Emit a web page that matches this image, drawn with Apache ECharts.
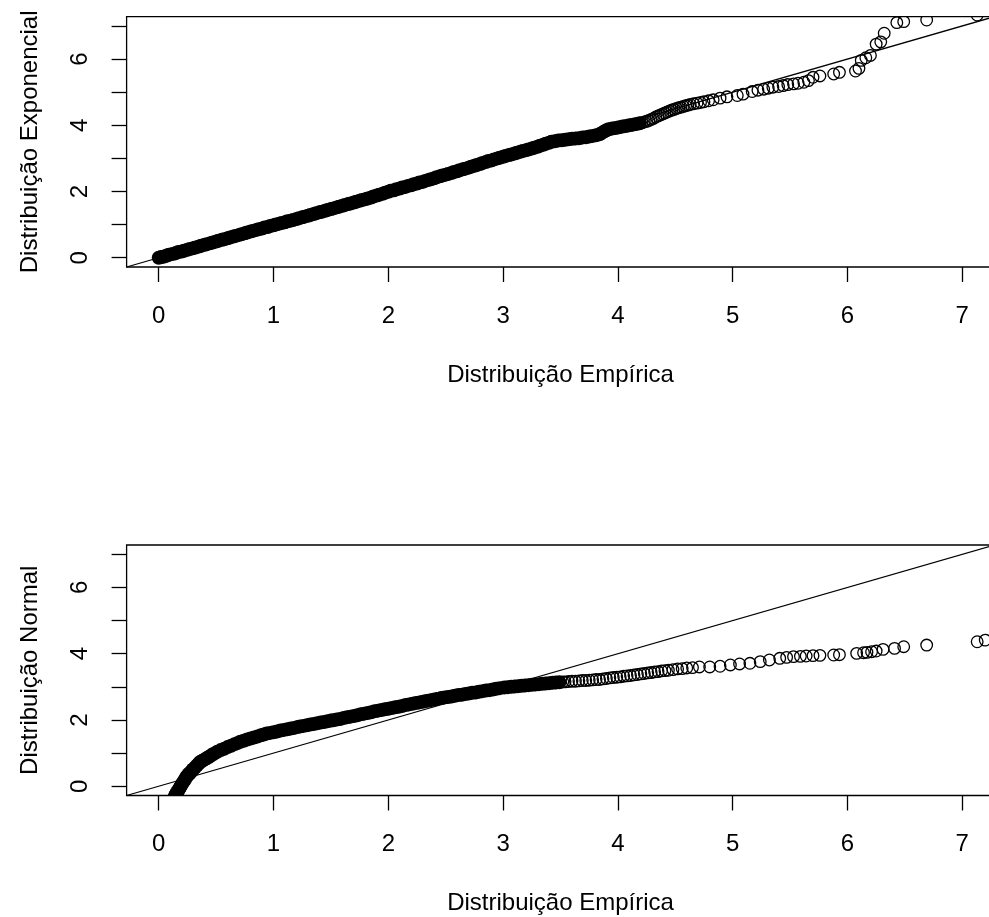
<!DOCTYPE html>
<html><head><meta charset="utf-8">
<script src="https://cdn.jsdelivr.net/npm/echarts@6.0.0/dist/echarts.min.js"></script>
<style>html,body{margin:0;padding:0;background:#fff}#c{width:989px;height:917px}</style>
</head><body><div id="c"></div>
<script>
// ---- data ----
const tickValues = [0, 1, 2, 3, 4, 5, 6, 7];
const xLabelValues = [0, 1, 2, 3, 4, 5, 6, 7];
const yLabelValues = [0, 2, 4, 6];
const axisMin = -0.28, axisMax = 7.28;
const xTitle = 'Distribuição Empírica';
const yTitles = ['Distribuição Exponencial', 'Distribuição Normal'];
// reference line y = x (intercept 0, slope 1)
const refLine = [[-0.28, -0.28], [7.28, 7.28]];

// top plot: [empirical, exponential] pairs, solid band part
const expDense = [
0.00,0.00, 0.02,0.02, 0.04,0.03, 0.06,0.05, 0.08,0.08, 0.10,0.10, 0.13,0.12, 0.15,0.14, 0.17,0.17, 0.20,0.19,
0.22,0.21, 0.25,0.24, 0.27,0.26, 0.30,0.29, 0.32,0.31, 0.35,0.34, 0.37,0.36, 0.40,0.39, 0.42,0.41, 0.45,0.44,
0.47,0.46, 0.50,0.49, 0.52,0.51, 0.55,0.54, 0.57,0.56, 0.60,0.59, 0.62,0.61, 0.65,0.64, 0.67,0.66, 0.70,0.69,
0.72,0.71, 0.75,0.74, 0.77,0.76, 0.80,0.79, 0.82,0.81, 0.85,0.84, 0.87,0.86, 0.90,0.88, 0.92,0.91, 0.95,0.93,
0.97,0.96, 1.00,0.98, 1.02,1.00, 1.05,1.03, 1.07,1.05, 1.10,1.07, 1.12,1.10, 1.15,1.12, 1.17,1.14, 1.20,1.17,
1.22,1.19, 1.25,1.22, 1.27,1.24, 1.30,1.27, 1.32,1.29, 1.35,1.32, 1.37,1.34, 1.40,1.37, 1.42,1.39, 1.45,1.42,
1.47,1.44, 1.50,1.47, 1.52,1.49, 1.55,1.52, 1.57,1.54, 1.60,1.57, 1.62,1.59, 1.65,1.62, 1.67,1.64, 1.70,1.67,
1.72,1.69, 1.75,1.72, 1.77,1.74, 1.80,1.77, 1.82,1.79, 1.85,1.82, 1.87,1.85, 1.90,1.88, 1.92,1.90, 1.95,1.93,
1.97,1.96, 2.00,1.99, 2.02,2.02, 2.05,2.04, 2.07,2.07, 2.10,2.09, 2.12,2.12, 2.15,2.14, 2.17,2.17, 2.20,2.19,
2.22,2.22, 2.25,2.24, 2.27,2.27, 2.30,2.29, 2.32,2.32, 2.35,2.35, 2.37,2.37, 2.40,2.40, 2.42,2.43, 2.45,2.46,
2.47,2.48, 2.50,2.51, 2.52,2.53, 2.55,2.56, 2.57,2.59, 2.60,2.61, 2.62,2.64, 2.65,2.67, 2.67,2.69, 2.70,2.72,
2.72,2.75, 2.75,2.78, 2.77,2.80, 2.80,2.83, 2.82,2.86, 2.85,2.89, 2.87,2.92, 2.90,2.94, 2.92,2.97, 2.95,3.00,
2.97,3.02, 3.00,3.05, 3.02,3.07, 3.05,3.10, 3.07,3.12, 3.10,3.15, 3.12,3.17, 3.15,3.20, 3.17,3.22, 3.20,3.25,
3.22,3.27, 3.25,3.30, 3.27,3.32, 3.30,3.35, 3.32,3.38, 3.35,3.41, 3.37,3.44, 3.40,3.47, 3.42,3.50, 3.45,3.52,
3.48,3.54, 3.51,3.55, 3.54,3.56, 3.57,3.58, 3.60,3.59, 3.63,3.60, 3.66,3.61, 3.69,3.63, 3.72,3.64, 3.75,3.66,
3.78,3.68, 3.81,3.70, 3.84,3.73, 3.86,3.77, 3.88,3.81, 3.90,3.85, 3.92,3.88, 3.95,3.90, 3.98,3.92, 4.01,3.94,
4.04,3.96, 4.07,3.98, 4.10,4.00, 4.13,4.02, 4.16,4.04, 4.19,4.06
];
// top plot: separate (overlapping) circles
const expSparse = [
4.21,4.08, 4.23,4.10, 4.25,4.12, 4.27,4.15, 4.29,4.18, 4.31,4.21, 4.33,4.25, 4.35,4.28, 4.37,4.31, 4.39,4.34,
4.41,4.37, 4.43,4.40, 4.45,4.43, 4.47,4.46, 4.49,4.48, 4.51,4.51, 4.53,4.53, 4.55,4.55, 4.57,4.57, 4.59,4.59,
4.61,4.61, 4.63,4.63, 4.66,4.65, 4.69,4.67, 4.72,4.69, 4.75,4.71, 4.79,4.74, 4.83,4.77, 4.89,4.82, 4.95,4.86,
5.04,4.90, 5.09,4.94, 5.17,5.02, 5.22,5.06, 5.27,5.09, 5.31,5.12, 5.35,5.15, 5.40,5.17, 5.44,5.20, 5.48,5.23,
5.53,5.25, 5.57,5.27, 5.62,5.30, 5.66,5.35, 5.70,5.45, 5.76,5.49, 5.88,5.55, 5.93,5.60, 6.07,5.64, 6.10,5.72,
6.12,5.96, 6.16,6.04, 6.20,6.11, 6.25,6.45, 6.29,6.52, 6.32,6.78, 6.43,7.10, 6.49,7.13, 6.69,7.18, 7.13,7.33,
7.20,7.60
];

// bottom plot: [empirical, normal] pairs, solid band part
const normDense = [
0.06,-0.95, 0.07,-0.87, 0.08,-0.79, 0.09,-0.70, 0.10,-0.62, 0.11,-0.54, 0.12,-0.46, 0.13,-0.38, 0.14,-0.30,
0.15,-0.24, 0.16,-0.18, 0.17,-0.13, 0.18,-0.07, 0.19,-0.01, 0.20,0.05, 0.21,0.11, 0.22,0.16, 0.23,0.22, 0.24,0.28,
0.25,0.32, 0.26,0.36, 0.27,0.39, 0.28,0.43, 0.29,0.47, 0.30,0.51, 0.315,0.56, 0.33,0.62, 0.345,0.67, 0.36,0.73,
0.38,0.77, 0.40,0.81, 0.42,0.85, 0.44,0.89, 0.46,0.94, 0.48,0.98, 0.51,1.04,
0.54,1.09, 0.57,1.13, 0.60,1.18, 0.63,1.22, 0.66,1.27, 0.685,1.30, 0.71,1.34,
0.74,1.37, 0.77,1.41, 0.80,1.44, 0.83,1.47, 0.86,1.50, 0.89,1.54, 0.915,1.56, 0.94,1.59,
0.97,1.61, 1.00,1.63, 1.03,1.65, 1.06,1.68, 1.09,1.70, 1.12,1.72, 1.15,1.74, 1.18,1.76, 1.21,1.79, 1.23,1.80,
1.26,1.82, 1.29,1.84, 1.32,1.86, 1.35,1.88, 1.38,1.90, 1.41,1.92, 1.44,1.94, 1.47,1.96, 1.50,1.98, 1.52,1.99,
1.55,2.01, 1.58,2.03, 1.61,2.06, 1.64,2.08, 1.67,2.10, 1.70,2.12, 1.73,2.14, 1.76,2.17, 1.79,2.19, 1.82,2.21,
1.85,2.23, 1.88,2.26, 1.91,2.28,
1.94,2.30, 1.97,2.32, 2.00,2.34, 2.03,2.36, 2.06,2.38, 2.09,2.40, 2.12,2.42, 2.15,2.45, 2.18,2.47, 2.21,2.49,
2.24,2.51, 2.27,2.53, 2.30,2.55, 2.33,2.57, 2.36,2.59, 2.39,2.61, 2.42,2.63, 2.46,2.66,
2.49,2.68, 2.52,2.69, 2.55,2.71, 2.58,2.73, 2.61,2.75, 2.64,2.76, 2.67,2.78, 2.70,2.80, 2.73,2.82, 2.76,2.83,
2.79,2.85, 2.82,2.87, 2.85,2.89, 2.88,2.90, 2.91,2.92, 2.94,2.94, 2.97,2.96, 3.01,2.98,
3.04,2.99, 3.07,3.00, 3.10,3.01, 3.13,3.02, 3.16,3.03, 3.19,3.04, 3.22,3.05, 3.25,3.06, 3.28,3.07, 3.31,3.08,
3.34,3.09, 3.37,3.10, 3.40,3.11, 3.43,3.12, 3.46,3.13, 3.49,3.14
];
// bottom plot: separate (overlapping) circles
const normSparse = [
3.52,3.15, 3.54,3.15, 3.57,3.16, 3.60,3.17, 3.63,3.17, 3.66,3.18, 3.69,3.19, 3.72,3.19, 3.75,3.20, 3.78,3.21,
3.81,3.22, 3.84,3.22, 3.87,3.24, 3.90,3.25, 3.93,3.27, 3.96,3.28, 3.99,3.29, 4.02,3.30, 4.05,3.32, 4.08,3.33,
4.11,3.34, 4.14,3.36, 4.17,3.37, 4.20,3.39, 4.23,3.40, 4.26,3.42, 4.29,3.43, 4.32,3.45, 4.35,3.46, 4.38,3.48,
4.41,3.49, 4.44,3.50, 4.48,3.52, 4.52,3.54, 4.56,3.55, 4.60,3.57, 4.65,3.58, 4.71,3.60, 4.80,3.60, 4.89,3.62,
4.98,3.66, 5.06,3.69, 5.15,3.71, 5.24,3.76, 5.32,3.81, 5.41,3.86, 5.47,3.89, 5.53,3.91, 5.59,3.92, 5.64,3.93,
5.70,3.94, 5.76,3.95, 5.88,3.96, 5.93,3.97, 6.08,4.01, 6.14,4.03, 6.17,4.04, 6.21,4.06, 6.25,4.08, 6.31,4.13,
6.41,4.16, 6.49,4.21, 6.69,4.26, 7.13,4.36, 7.20,4.41
];

// ---- chart ----
function pairs(a) { const o = []; for (let i = 0; i + 1 < a.length; i += 2) o.push([a[i], a[i + 1]]); return o; }
const FONT = "'Liberation Sans', Arial, Helvetica, sans-serif";
const BLACK = '#000';
const tickStyle = { color: BLACK, width: 1.3 };

function xAxisFor(i) {
  return {
    type: 'value', gridIndex: i, min: axisMin, max: axisMax,
    axisLine: { show: false, onZero: false },
    axisTick: { show: true, inside: false, length: 15, customValues: tickValues, lineStyle: tickStyle },
    axisLabel: { customValues: xLabelValues, margin: 37, fontSize: 24, color: BLACK, fontFamily: FONT },
    splitLine: { show: false },
    name: xTitle, nameLocation: 'middle', nameGap: 96, nameMoveOverlap: false,
    nameTextStyle: { fontSize: 24, color: BLACK, fontFamily: FONT }
  };
}
function yAxisFor(i) {
  return {
    type: 'value', gridIndex: i, min: axisMin, max: axisMax,
    axisLine: { show: false, onZero: false },
    axisTick: { show: true, inside: false, length: 15, customValues: tickValues, lineStyle: tickStyle },
    axisLabel: { customValues: yLabelValues, rotate: 90, margin: 34, fontSize: 24, color: BLACK, fontFamily: FONT },
    splitLine: { show: false },
    name: yTitles[i], nameLocation: 'middle', nameGap: 84, nameMoveOverlap: false,
    nameTextStyle: { fontSize: 24, color: BLACK, fontFamily: FONT }
  };
}
// circles drawn through the axes' scales; clipped to the plot box like R does
function circleSeries(i, flat, filled) {
  return {
    type: 'custom', coordinateSystem: 'cartesian2d', xAxisIndex: i, yAxisIndex: i,
    data: pairs(flat), encode: { x: 0, y: 1 }, clip: true, silent: true,
    renderItem: function (params, api) {
      const p = api.coord([api.value(0), api.value(1)]);
      return filled
        ? { type: 'circle', shape: { cx: p[0], cy: p[1], r: 7.0 }, style: { fill: BLACK } }
        : { type: 'circle', shape: { cx: p[0], cy: p[1], r: 5.8 }, style: { fill: 'none', stroke: BLACK, lineWidth: 1.3 } };
    }
  };
}
function seriesFor(i, dense, sparse) {
  return [
    circleSeries(i, dense, true),
    circleSeries(i, sparse, false),
    { type: 'line', xAxisIndex: i, yAxisIndex: i, data: refLine, symbol: 'none', clip: true, silent: true,
      lineStyle: { color: BLACK, width: 1.3 }, z: 5 }
  ];
}

const chart = echarts.init(document.getElementById('c'), null, { renderer: 'canvas' });
chart.setOption({
  backgroundColor: '#fff',
  animation: false,
  textStyle: { fontFamily: FONT },
  grid: [
    { left: 126.6, top: 16.7, width: 867.8, height: 250.3, show: true, borderColor: BLACK, borderWidth: 1.3,
      backgroundColor: 'rgba(0,0,0,0)', containLabel: false, outerBoundsMode: 'none' },
    { left: 126.6, top: 545, width: 867.8, height: 250.5, show: true, borderColor: BLACK, borderWidth: 1.3,
      backgroundColor: 'rgba(0,0,0,0)', containLabel: false, outerBoundsMode: 'none' }
  ],
  xAxis: [xAxisFor(0), xAxisFor(1)],
  yAxis: [yAxisFor(0), yAxisFor(1)],
  series: [].concat(seriesFor(0, expDense, expSparse), seriesFor(1, normDense, normSparse))
});
</script>
</body></html>
